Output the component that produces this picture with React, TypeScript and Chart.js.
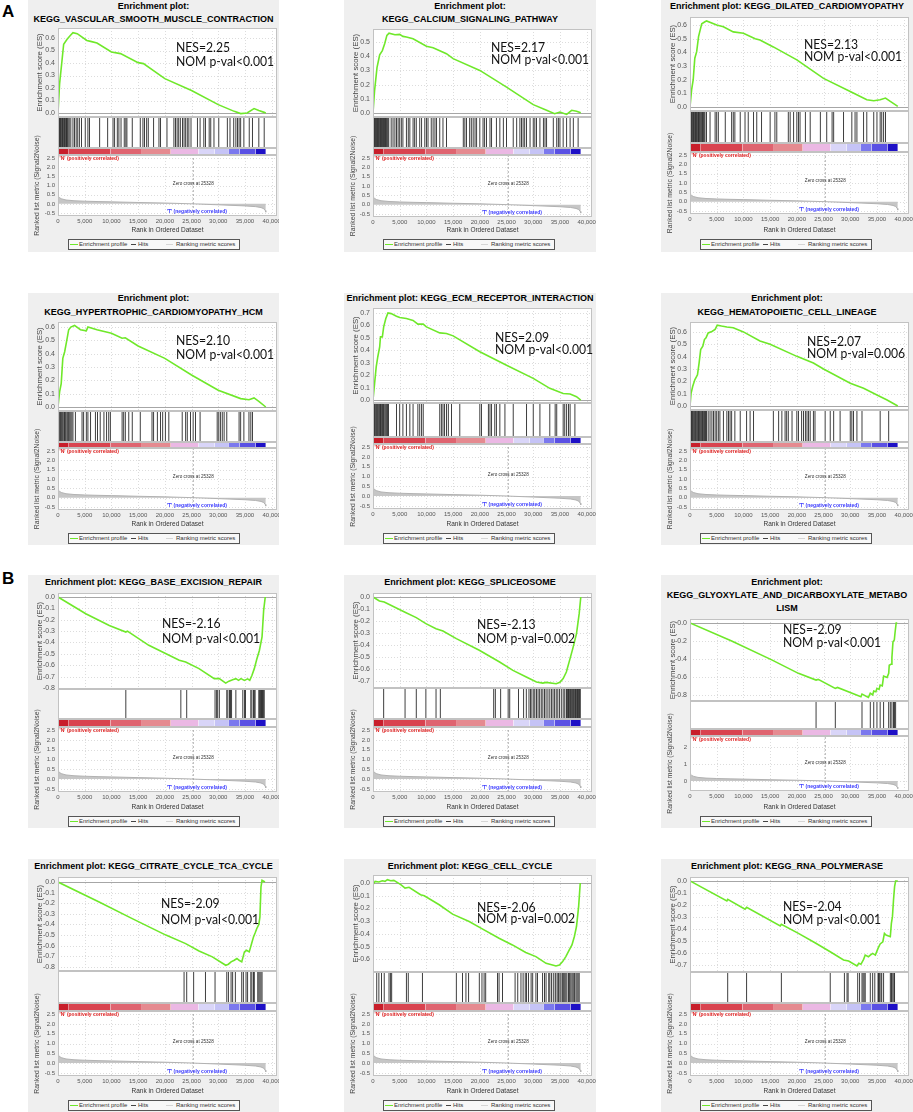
import React, { useEffect, useRef } from 'react';
import { Chart, registerables } from 'chart.js';

Chart.register(...registerables);

const FONT = "'Liberation Sans', Arial, Helvetica, sans-serif";
const NES_FONT = "Lato, 'Open Sans', sans-serif";
Chart.defaults.font.family = FONT;

// ---------------- shared ranked list ----------------
const RANK_METRIC_X = [0, 100, 300, 700, 1500, 3000, 5000, 7500, 10000, 15000, 20000, 25328, 30000, 35000, 37000, 38000, 38500, 38800, 38900];
const RANK_METRIC_Y = [0.48, 0.4, 0.33, 0.27, 0.21, 0.17, 0.145, 0.125, 0.11, 0.075, 0.045, 0, -0.05, -0.11, -0.15, -0.2, -0.26, -0.36, -0.45];
const ZERO_CROSS = 25328;
const COLORBAR_EDGES = [0, 2000, 9800, 15700, 21100, 26300, 29300, 32000, 34000, 37000, 38900];
const COLORBAR_COLORS = ['#c81e2a', '#d9434f', '#df6470', '#e58a90', '#ebb8e4', '#d9d5f8', '#c5c3f6', '#7b78ee', '#5a50e4', '#1e10c6'];
const X_TICK_VALUES = [0, 5000, 10000, 15000, 20000, 25000, 30000, 35000, 40000];
const X_MAX = 41000;

// ---------------- panel texts ----------------
const PANEL_TITLES = [
  ['Enrichment plot:', 'KEGG_VASCULAR_SMOOTH_MUSCLE_CONTRACTION'],
  ['Enrichment plot:', 'KEGG_CALCIUM_SIGNALING_PATHWAY'],
  ['Enrichment plot: KEGG_DILATED_CARDIOMYOPATHY'],
  ['Enrichment plot:', 'KEGG_HYPERTROPHIC_CARDIOMYOPATHY_HCM'],
  ['Enrichment plot: KEGG_ECM_RECEPTOR_INTERACTION'],
  ['Enrichment plot:', 'KEGG_HEMATOPOIETIC_CELL_LINEAGE'],
  ['Enrichment plot: KEGG_BASE_EXCISION_REPAIR'],
  ['Enrichment plot: KEGG_SPLICEOSOME'],
  ['Enrichment plot:', 'KEGG_GLYOXYLATE_AND_DICARBOXYLATE_METABO', 'LISM'],
  ['Enrichment plot: KEGG_CITRATE_CYCLE_TCA_CYCLE'],
  ['Enrichment plot: KEGG_CELL_CYCLE'],
  ['Enrichment plot: KEGG_RNA_POLYMERASE'],
];
const NES_TEXT = ['NES=2.25', 'NES=2.17', 'NES=2.13', 'NES=2.10', 'NES=2.09', 'NES=2.07', 'NES=-2.16', 'NES=-2.13', 'NES=-2.09', 'NES=-2.09', 'NES=-2.06', 'NES=-2.04'];
const PVAL_TEXT = ['NOM p-val<0.001', 'NOM p-val<0.001', 'NOM p-val<0.001', 'NOM p-val<0.001', 'NOM p-val<0.001', 'NOM p-val=0.006', 'NOM p-val<0.001', 'NOM p-val=0.002', 'NOM p-val<0.001', 'NOM p-val<0.001', 'NOM p-val=0.002', 'NOM p-val<0.001'];

// ---------------- enrichment profiles (rank, ES) and hit positions (thousands of ranks) ----------------
const ES_VASCULAR_X = [0, 300, 750, 1060, 1700, 2300, 2800, 3600, 5400, 6100, 7300, 10000, 11700, 15000, 16000, 20000, 25000, 30000, 33000, 34200, 35400, 36700, 37600, 38600, 38900];
const ES_VASCULAR_Y = [0, 0.235, 0.42, 0.55, 0.59, 0.62, 0.643, 0.635, 0.58, 0.573, 0.56, 0.488, 0.475, 0.403, 0.395, 0.275, 0.18, 0.067, 0.013, -0.005, 0, 0.035, 0.02, 0.005, 0];
const HITS_VASCULAR_K = [0.05, 0.2, 0.3, 0.45, 0.55, 0.7, 0.85, 0.95, 1.1, 1.2, 1.35, 1.5, 1.6, 1.75, 1.9, 2.1, 2.4, 2.8, 3.1, 3.4, 3.7, 4.0, 4.4, 5.1, 5.6, 5.9, 7.8, 9.3, 10.3, 10.6, 11.1, 11.4, 11.8, 12.4, 12.7, 12.9, 13.9, 15.4, 15.9, 16.2, 16.6, 16.9, 17.9, 18.9, 19.2, 20.4, 21.7, 22.0, 22.3, 22.6, 22.9, 23.3, 23.6, 23.9, 24.2, 24.5, 24.9, 26.1, 26.6, 27.3, 27.6, 28.3, 28.6, 29.2, 30.1, 31.7, 32.2, 32.9, 33.3, 33.6, 33.9, 34.2, 34.8, 35.8, 36.4, 37.6, 38.6];

const ES_CALCIUM_X = [0, 300, 750, 1250, 1750, 2200, 2600, 3000, 4100, 5000, 5600, 6250, 7500, 10000, 11250, 13750, 15000, 20000, 25000, 30000, 32500, 34000, 35000, 36250, 37200, 38100, 38900];
const ES_CALCIUM_Y = [0, 0.16, 0.32, 0.41, 0.44, 0.49, 0.547, 0.563, 0.552, 0.554, 0.54, 0.535, 0.523, 0.47, 0.46, 0.418, 0.383, 0.3, 0.183, 0.059, 0.019, -0.005, 0.007, -0.01, 0.019, 0.012, 0.002];
const HITS_CALCIUM_K = [0.05, 0.2, 0.3, 0.45, 0.6, 0.7, 0.85, 1.0, 1.1, 1.25, 1.4, 1.55, 1.65, 1.8, 1.95, 2.1, 2.2, 2.35, 2.5, 2.65, 2.8, 2.95, 3.4, 3.75, 4.1, 4.4, 4.7, 5.0, 5.3, 5.6, 6.25, 6.6, 6.9, 7.5, 7.8, 8.1, 8.75, 9.1, 9.7, 10.0, 10.3, 10.9, 11.25, 11.6, 11.9, 12.5, 13.1, 13.75, 16.9, 17.2, 17.5, 18.1, 18.4, 18.75, 19.1, 19.4, 20.0, 20.6, 20.9, 21.25, 21.9, 22.2, 23.1, 23.75, 24.4, 25.0, 26.25, 26.9, 27.5, 27.8, 28.1, 28.4, 28.75, 29.4, 30.0, 30.3, 30.6, 31.25, 31.9, 32.2, 32.5, 33.75, 34.4, 34.7, 35.0, 35.6, 36.25, 36.9, 37.5, 38.4];

const ES_DILATED_X = [0, 300, 600, 900, 1250, 1600, 1900, 2200, 2800, 3100, 5000, 6250, 8100, 10000, 12200, 13100, 15600, 20000, 25000, 30000, 33100, 34400, 35600, 36600, 37500, 38900];
const ES_DILATED_Y = [0, 0.126, 0.2, 0.357, 0.405, 0.515, 0.563, 0.61, 0.624, 0.63, 0.6, 0.587, 0.55, 0.54, 0.5, 0.49, 0.44, 0.345, 0.21, 0.114, 0.053, 0.046, 0.053, 0.066, 0.041, 0.005];
const HITS_DILATED_K = [0.1, 0.25, 0.35, 0.5, 0.65, 0.8, 0.95, 1.05, 1.2, 1.35, 1.5, 1.6, 1.75, 1.9, 2.05, 2.2, 2.35, 2.5, 2.65, 2.8, 3.1, 3.75, 4.7, 5.0, 5.3, 6.6, 7.8, 8.1, 8.4, 9.4, 10.3, 10.9, 11.9, 12.5, 13.4, 15.0, 15.9, 16.25, 18.4, 18.75, 19.4, 20.0, 20.3, 20.6, 21.6, 22.5, 24.4, 25.6, 26.6, 26.9, 28.75, 30.3, 30.9, 31.25, 32.5, 33.1, 34.4, 35.0, 35.6, 35.9, 36.25, 36.6];

const ES_HCM_X = [0, 300, 600, 900, 1250, 1600, 2000, 2400, 3100, 4200, 5300, 5600, 7300, 10000, 12000, 12600, 15000, 20000, 25000, 30000, 34200, 35750, 36700, 37600, 38900];
const ES_HCM_Y = [0, 0.113, 0.176, 0.365, 0.415, 0.49, 0.58, 0.6, 0.612, 0.58, 0.572, 0.6, 0.58, 0.554, 0.516, 0.52, 0.458, 0.365, 0.24, 0.126, 0.063, 0.055, 0.068, 0.043, 0];
const HITS_HCM_K = [0.05, 0.2, 0.35, 0.5, 0.6, 0.75, 0.9, 1.1, 1.2, 1.35, 1.5, 1.7, 1.85, 2.0, 2.2, 2.4, 2.6, 2.8, 3.25, 4.5, 4.8, 5.3, 5.6, 6.1, 7.0, 7.4, 7.9, 8.6, 9.1, 9.5, 9.8, 12.0, 12.3, 12.6, 13.25, 13.9, 15.4, 17.6, 17.9, 18.6, 19.2, 19.6, 20.1, 20.75, 23.25, 23.9, 24.2, 24.8, 25.3, 25.75, 26.6, 29.8, 30.1, 30.4, 30.75, 31.1, 31.6, 33.9, 34.2, 34.8, 35.75, 36.1, 36.4];

const ES_ECM_X = [0, 300, 600, 900, 1250, 1400, 1750, 2000, 2400, 2800, 3400, 4400, 5000, 6250, 7500, 8400, 9400, 10000, 12500, 13750, 15000, 20000, 25000, 30000, 33100, 35600, 36900, 38100, 38900];
const ES_ECM_Y = [0, 0.134, 0.267, 0.348, 0.428, 0.508, 0.508, 0.588, 0.655, 0.7, 0.695, 0.674, 0.663, 0.655, 0.64, 0.61, 0.61, 0.588, 0.54, 0.535, 0.516, 0.388, 0.28, 0.174, 0.094, 0.053, 0.048, 0.027, 0];
const HITS_ECM_K = [0.05, 0.15, 0.3, 0.4, 0.55, 0.7, 0.8, 0.95, 1.1, 1.25, 1.4, 1.5, 1.65, 1.8, 1.95, 2.1, 2.3, 2.5, 2.7, 2.9, 4.4, 5.0, 5.6, 6.25, 6.9, 7.5, 8.4, 8.75, 9.1, 9.4, 12.5, 12.8, 13.1, 13.4, 13.75, 14.1, 14.7, 16.25, 20.0, 20.3, 21.6, 21.9, 22.2, 22.8, 23.1, 23.75, 24.7, 26.25, 28.75, 30.0, 31.25, 33.1, 34.1, 34.4, 35.6, 35.9, 36.25, 36.6, 36.9, 37.8];

const ES_HEMATO_X = [0, 200, 500, 900, 1400, 1700, 2000, 2400, 2700, 3000, 3400, 4100, 4700, 5100, 5900, 6900, 8100, 10000, 13100, 15000, 20000, 23100, 25000, 30000, 32500, 35000, 36900, 38900];
const ES_HEMATO_Y = [0, 0.103, 0.158, 0.212, 0.253, 0.348, 0.457, 0.484, 0.538, 0.552, 0.592, 0.603, 0.62, 0.654, 0.647, 0.64, 0.633, 0.6, 0.527, 0.5, 0.402, 0.348, 0.3, 0.185, 0.144, 0.09, 0.049, 0];
const HITS_HEMATO_K = [0.05, 0.2, 0.3, 0.45, 0.6, 0.75, 0.9, 1.0, 1.15, 1.3, 1.45, 1.6, 1.75, 1.9, 2.05, 2.2, 2.35, 2.5, 2.7, 2.9, 3.1, 3.4, 3.75, 4.1, 4.4, 4.7, 5.0, 5.3, 5.6, 6.25, 6.9, 7.2, 7.5, 7.8, 8.4, 9.4, 10.6, 11.25, 11.9, 15.6, 16.6, 17.2, 17.8, 18.1, 18.4, 19.1, 20.0, 20.3, 20.9, 21.25, 21.6, 21.9, 22.2, 22.5, 23.1, 23.4, 25.3, 26.25, 26.9, 28.1, 30.0, 30.3, 30.6, 31.25, 32.2, 35.6, 37.2];

const ES_BER_X = [0, 5200, 9600, 12700, 13000, 17000, 22700, 23900, 26400, 29250, 30200, 31400, 32000, 32700, 33300, 33800, 34250, 34900, 35500, 35900, 36300, 36750, 37200, 37700, 38200, 38500, 38800];
const ES_BER_Y = [0, -0.147, -0.25, -0.308, -0.3, -0.425, -0.557, -0.572, -0.63, -0.718, -0.718, -0.757, -0.74, -0.727, -0.718, -0.733, -0.718, -0.733, -0.72, -0.733, -0.69, -0.63, -0.55, -0.47, -0.35, -0.117, 0];
const HITS_BER_K = [12.7, 23.0, 24.1, 29.4, 29.7, 29.9, 30.2, 31.6, 31.8, 32.1, 32.3, 32.5, 33.3, 34.6, 34.9, 35.1, 36.1, 36.3, 36.6, 36.75, 36.9, 37.6, 37.7, 37.9, 38.1, 38.2, 38.3, 38.5, 38.6];

const ES_SPLICE_X = [0, 1200, 2100, 5900, 8100, 9900, 11800, 13100, 15600, 19900, 23700, 26200, 28700, 30600, 31800, 32400, 34300, 35000, 35600, 36200, 36800, 37400, 38100, 38600, 38900];
const ES_SPLICE_Y = [0, -0.033, -0.042, -0.125, -0.172, -0.222, -0.264, -0.283, -0.347, -0.444, -0.542, -0.611, -0.667, -0.708, -0.717, -0.711, -0.722, -0.711, -0.68, -0.625, -0.528, -0.43, -0.305, -0.139, 0];
const HITS_SPLICE_K = [2.0, 6.0, 8.1, 9.9, 11.8, 12.6, 22.6, 22.9, 23.9, 25.3, 25.6, 27.25, 28.2, 28.7, 29.2, 29.5, 29.75, 30.1, 30.3, 30.6, 30.9, 31.2, 31.5, 31.8, 32.1, 32.4, 32.75, 33.1, 33.4, 33.7, 34.0, 34.3, 34.6, 34.9, 35.25, 35.6, 35.9, 36.2, 36.3, 36.45, 36.6, 36.7, 36.85, 37.0, 37.1, 37.25, 37.4, 37.5, 37.65, 37.8, 37.9, 38.05, 38.2, 38.3, 38.45, 38.6, 38.7, 38.8];

const ES_GLYOX_X = [0, 7800, 15300, 20300, 23600, 24000, 27200, 27600, 32000, 32200, 33400, 33750, 34200, 34400, 34800, 35000, 35400, 35600, 36000, 36250, 36900, 37200, 37300, 37700, 37800, 38000, 38250, 38400, 38600, 38800];
const ES_GLYOX_Y = [0, -0.2, -0.41, -0.56, -0.635, -0.627, -0.727, -0.716, -0.82, -0.79, -0.827, -0.78, -0.8, -0.756, -0.764, -0.727, -0.738, -0.69, -0.7, -0.59, -0.605, -0.56, -0.47, -0.457, -0.384, -0.21, -0.19, -0.1, 0, 0];
const HITS_GLYOX_K = [23.6, 27.2, 32.2, 33.75, 34.4, 35.0, 35.6, 36.25, 37.2, 37.5, 37.8, 38.1, 38.3, 38.5];

const ES_CITRATE_X = [0, 7700, 13900, 20200, 23900, 26400, 28900, 31400, 31900, 32400, 33000, 33500, 33900, 34400, 34900, 35300, 35800, 36250, 36600, 36900, 37200, 37600, 37800, 38000, 38200, 38750];
const ES_CITRATE_Y = [0, -0.188, -0.345, -0.5, -0.58, -0.65, -0.705, -0.784, -0.774, -0.752, -0.737, -0.72, -0.737, -0.752, -0.658, -0.643, -0.658, -0.58, -0.517, -0.48, -0.44, -0.4, -0.33, -0.047, 0.016, 0];
const HITS_CITRATE_K = [23.6, 24.1, 25.4, 27.6, 29.4, 31.6, 31.9, 32.4, 32.7, 33.2, 34.4, 34.7, 35.2, 35.5, 36.1, 36.3, 36.6, 36.75, 37.4, 37.6, 37.8, 38.0, 38.2];

const ES_CELLCYCLE_X = [0, 400, 1100, 1750, 2250, 2700, 3300, 3900, 5200, 6000, 6750, 8900, 9600, 12400, 14900, 18000, 20200, 23600, 26100, 28600, 30500, 32400, 33600, 34250, 34900, 35500, 36100, 36750, 37250, 37700, 38100, 38500, 38800];
const ES_CELLCYCLE_Y = [-0.013, 0.013, 0.008, 0.018, 0.013, 0.026, 0.018, 0.021, -0.013, -0.04, -0.034, -0.092, -0.1, -0.171, -0.245, -0.303, -0.355, -0.434, -0.487, -0.547, -0.579, -0.632, -0.645, -0.653, -0.645, -0.618, -0.579, -0.526, -0.487, -0.421, -0.342, -0.184, 0];
const HITS_CELLCYCLE_K = [0.7, 1.1, 1.6, 2.1, 3.0, 3.3, 3.5, 6.25, 6.6, 9.25, 15.6, 16.75, 17.4, 17.9, 19.9, 20.4, 20.8, 21.1, 23.3, 23.6, 24.25, 26.6, 27.1, 27.7, 28.1, 28.5, 28.75, 29.1, 29.6, 29.9, 30.5, 30.8, 31.75, 32.1, 32.4, 32.9, 33.1, 33.4, 33.75, 34.1, 34.25, 34.6, 34.75, 35.0, 35.2, 35.5, 35.7, 35.9, 36.1, 36.3, 36.6, 36.75, 36.9, 37.1, 37.4, 37.6, 37.75, 38.0, 38.2, 38.4, 38.6];

const ES_RNAPOL_X = [0, 6900, 7060, 10300, 10600, 16900, 17100, 20300, 23400, 26250, 28750, 29700, 31250, 31600, 32000, 32500, 32800, 33400, 33750, 34200, 34700, 35200, 35600, 36100, 36400, 36700, 37500, 37700, 37900, 38100, 38300, 38500, 38900];
const ES_RNAPOL_Y = [0, -0.167, -0.153, -0.236, -0.22, -0.375, -0.361, -0.436, -0.514, -0.589, -0.658, -0.667, -0.708, -0.686, -0.694, -0.653, -0.617, -0.631, -0.617, -0.603, -0.617, -0.561, -0.525, -0.506, -0.436, -0.45, -0.464, -0.353, -0.297, -0.158, -0.047, 0, 0];
const HITS_RNAPOL_K = [7.06, 10.6, 17.1, 26.25, 28.9, 29.4, 29.6, 31.4, 31.75, 32.2, 32.4, 32.6, 32.8, 33.75, 34.2, 34.6, 35.2, 35.3, 35.5, 35.75, 35.9, 36.25, 37.5, 37.7, 37.8, 38.0, 38.2, 38.3];

const PANEL_SERIES = [
  { esX: ES_VASCULAR_X, esY: ES_VASCULAR_Y, hitsK: HITS_VASCULAR_K },
  { esX: ES_CALCIUM_X, esY: ES_CALCIUM_Y, hitsK: HITS_CALCIUM_K },
  { esX: ES_DILATED_X, esY: ES_DILATED_Y, hitsK: HITS_DILATED_K },
  { esX: ES_HCM_X, esY: ES_HCM_Y, hitsK: HITS_HCM_K },
  { esX: ES_ECM_X, esY: ES_ECM_Y, hitsK: HITS_ECM_K },
  { esX: ES_HEMATO_X, esY: ES_HEMATO_Y, hitsK: HITS_HEMATO_K },
  { esX: ES_BER_X, esY: ES_BER_Y, hitsK: HITS_BER_K },
  { esX: ES_SPLICE_X, esY: ES_SPLICE_Y, hitsK: HITS_SPLICE_K },
  { esX: ES_GLYOX_X, esY: ES_GLYOX_Y, hitsK: HITS_GLYOX_K },
  { esX: ES_CITRATE_X, esY: ES_CITRATE_Y, hitsK: HITS_CITRATE_K },
  { esX: ES_CELLCYCLE_X, esY: ES_CELLCYCLE_Y, hitsK: HITS_CELLCYCLE_K },
  { esX: ES_RNAPOL_X, esY: ES_RNAPOL_Y, hitsK: HITS_RNAPOL_K },
];

// ---------------- layout (positions / axis ranges) ----------------
const PAGE_W = 913;
const PAGE_H = 1112;
const PLOT_W = 219;
const PAD_TOP = 5;
const BG = '#efefef';
const GREEN = '#6fe82a';
const COLS = [
  { bgL: 28, bgR: 279, plotL: 58, legL: 68 },
  { bgL: 344, bgR: 596, plotL: 373, legL: 383 },
  { bgL: 661, bgR: 913, plotL: 690, legL: 700 },
];
const ROWS = [
  { bgT: 0, bgB: 252, legT: 239 },
  { bgT: 293, bgB: 545, legT: 533 },
  { bgT: 575, bgB: 828, legT: 816 },
  { bgT: 859, bgB: 1112, legT: 1100 },
];
const R_DEF = { rankMin: -0.66, rankMax: 2.66, rankStep: 0.5 };
const GEOM: any[] = [
  { titleY: [7, 20], esT: 28, esB: 117, hitsB: 148, cbB: 155, rankB: 216, esMin: -0.032, esMax: 0.68, esStep: 0.1, ...R_DEF, nesX: 176, nesY: [46, 60] },
  { titleY: [7, 20], esT: 29, esB: 117, hitsB: 148, cbB: 155, rankB: 217, esMin: -0.028, esMax: 0.592, esStep: 0.1, ...R_DEF, nesX: 491, nesY: [46, 58] },
  { titleY: [7], esT: 17, esB: 111, hitsB: 143, cbB: 152, rankB: 214, esMin: -0.029, esMax: 0.659, esStep: 0.1, ...R_DEF, nesX: 804, nesY: [43, 55] },
  { titleY: [299, 313], esT: 322, esB: 411, hitsB: 442, cbB: 448, rankB: 510, esMin: -0.03, esMax: 0.638, esStep: 0.1, ...R_DEF, nesX: 176, nesY: [339, 353] },
  { titleY: [299], esT: 308, esB: 403, hitsB: 437, cbB: 444, rankB: 509, esMin: -0.024, esMax: 0.74, esStep: 0.1, ...R_DEF, nesX: 495, nesY: [336, 348] },
  { titleY: [299, 313], esT: 322, esB: 410, hitsB: 442, cbB: 448, rankB: 510, esMin: -0.032, esMax: 0.68, esStep: 0.1, ...R_DEF, nesX: 807, nesY: [340, 352] },
  { titleY: [583], esT: 593, esB: 689, hitsB: 719, cbB: 727, rankB: 792, esMin: -0.809, esMax: 0.035, esStep: 0.1, ...R_DEF, nesX: 162, nesY: [622, 637] },
  { titleY: [583], esT: 593, esB: 688, hitsB: 719, cbB: 727, rankB: 792, esMin: -0.758, esMax: 0.033, esStep: 0.1, ...R_DEF, nesX: 477, nesY: [623, 637] },
  { titleY: [583, 596, 609], esT: 619, esB: 701, hitsB: 729, cbB: 736, rankB: 791, esMin: -0.867, esMax: 0.044, esStep: 0.2, rankMin: -0.59, rankMax: 2.65, rankStep: 1, nesX: 783, nesY: [628, 641] },
  { titleY: [867], esT: 877, esB: 971, hitsB: 1003, cbB: 1011, rankB: 1076, esMin: -0.838, esMax: 0.047, esStep: 0.1, ...R_DEF, nesX: 161, nesY: [902, 918] },
  { titleY: [867], esT: 875, esB: 972, hitsB: 1003, cbB: 1011, rankB: 1076, esMin: -0.7, esMax: 0.063, esStep: 0.1, ...R_DEF, nesX: 477, nesY: [906, 917] },
  { titleY: [867], esT: 877, esB: 972, hitsB: 1003, cbB: 1011, rankB: 1076, esMin: -0.758, esMax: 0.033, esStep: 0.1, ...R_DEF, nesX: 783, nesY: [905, 918] },
];

const fmtStep = (step: number) => (v: any) => {
  const d = step >= 1 ? 0 : 1;
  const f = Math.pow(10, d);
  let n = Math.round(Number(v) * f) / f;
  if (n === 0) n = 0;
  return n.toFixed(d);
};

const decorPlugin = {
  id: 'gseaDecor',
  beforeDatasetsDraw(chart: any) {
    const { ctx, chartArea: a, scales } = chart;
    const x = scales.x, yE = scales.yES, yR = scales.yRank;
    ctx.save();
    ctx.fillStyle = '#ffffff';
    ctx.fillRect(a.left, a.top, a.right - a.left, a.bottom - a.top);
    ctx.lineWidth = 1;
    ctx.strokeStyle = '#dcdcdc';
    ctx.setLineDash([1, 2]);
    ctx.beginPath();
    for (const t of x.ticks) {
      if (t.value === 0) continue;
      const px = Math.round(x.getPixelForValue(t.value)) + 0.5;
      for (const s of [yE, yR]) {
        ctx.moveTo(px, s.top);
        ctx.lineTo(px, s.bottom);
      }
    }
    for (const s of [yE, yR]) {
      for (const t of s.ticks) {
        if (s === yE && Math.abs(t.value) < 1e-9) continue;
        const py = Math.round(s.getPixelForValue(t.value)) + 0.5;
        ctx.moveTo(a.left, py);
        ctx.lineTo(a.right, py);
      }
    }
    ctx.stroke();
    ctx.setLineDash([]);
    ctx.strokeStyle = '#a6a6a6';
    const z = Math.round(yE.getPixelForValue(0)) + 0.5;
    ctx.beginPath();
    ctx.moveTo(a.left, z);
    ctx.lineTo(a.right, z);
    ctx.stroke();
    ctx.restore();
  },
  afterDatasetsDraw(chart: any) {
    const { ctx, chartArea: a, scales } = chart;
    const x = scales.x, yR = scales.yRank, yC = scales.yCB;
    ctx.save();
    ctx.strokeStyle = '#c2c2c2';
    ctx.lineWidth = 1;
    for (const id of ['yES', 'yHits', 'yCB', 'yRank']) {
      const s = scales[id];
      const t = Math.round(s.top) + 0.5;
      const b = Math.round(s.bottom) - 0.5;
      ctx.strokeRect(Math.round(a.left) + 0.5, t, Math.round(a.right - a.left) - 1, b - t);
    }
    ctx.textBaseline = 'middle';
    ctx.font = `bold 5px ${FONT}`;
    ctx.fillStyle = '#e02424';
    ctx.textAlign = 'left';
    ctx.fillText("'N' (positively correlated)", x.getPixelForValue(0) + 1.5, yC.bottom + 4);
    ctx.fillStyle = '#3a3aff';
    ctx.textAlign = 'center';
    ctx.fillText("'T' (negatively correlated)", x.getPixelForValue(26000), yR.bottom - 4.5);
    ctx.fillStyle = '#333';
    ctx.font = `4.6px ${FONT}`;
    ctx.fillText('Zero cross at ' + ZERO_CROSS, x.getPixelForValue(ZERO_CROSS), yR.getPixelForValue(1.1));
    ctx.restore();
  },
};

function makeChart(canvas: HTMLCanvasElement, p: number) {
  const g = GEOM[p];
  const s = PANEL_SERIES[p];
  const col = COLS[p % 3];
  const row = ROWS[Math.floor(p / 3)];
  const yW = col.plotL - col.bgL;
  const padRight = col.bgR - (col.plotL + PLOT_W);
  const xH = row.legT - g.rankB;
  const fitY = (sc: any) => {
    sc.width = yW;
    sc.paddingTop = 0;
    sc.paddingBottom = 0;
  };
  const noGrid = { display: false, drawTicks: false };
  const noBorder = { display: false };
  const hiddenAxis = (weight: number, stackWeight: number) => ({
    type: 'linear',
    position: 'left',
    stack: 'gsea',
    stackWeight,
    weight,
    min: 0,
    max: 1,
    ticks: { display: false },
    grid: noGrid,
    border: noBorder,
    afterFit: fitY,
  });

  const datasets: any[] = [
    {
      type: 'line',
      data: s.esX.map((xv, i) => ({ x: xv, y: s.esY[i] })),
      yAxisID: 'yES',
      borderColor: GREEN,
      borderWidth: 1.6,
      pointRadius: 0,
      fill: false,
      tension: 0,
      order: 0,
    },
    {
      type: 'line',
      data: [{ x: ZERO_CROSS, y: g.rankMin }, { x: ZERO_CROSS, y: g.rankMax }],
      yAxisID: 'yRank',
      borderColor: '#9c9c9c',
      borderWidth: 0.8,
      borderDash: [2, 2],
      pointRadius: 0,
      fill: false,
      order: 0,
    },
    {
      type: 'bar',
      data: s.hitsK.map((k) => ({ x: k * 1000, y: 1 })),
      yAxisID: 'yHits',
      backgroundColor: '#2a2a2a',
      borderWidth: 0,
      barThickness: 0.9,
      inflateAmount: 0,
      order: 1,
    },
    ...COLORBAR_COLORS.map((c, i) => ({
      type: 'line',
      data: [{ x: COLORBAR_EDGES[i], y: 1 }, { x: COLORBAR_EDGES[i + 1], y: 1 }],
      yAxisID: 'yCB',
      borderColor: 'rgba(0,0,0,0)',
      borderWidth: 0,
      backgroundColor: c,
      fill: 'origin',
      pointRadius: 0,
      order: 2,
    })),
    {
      type: 'line',
      data: RANK_METRIC_X.map((xv, i) => ({ x: xv, y: RANK_METRIC_Y[i] })),
      yAxisID: 'yRank',
      borderColor: '#b2b2b2',
      borderWidth: 1,
      backgroundColor: '#c6c6c6',
      fill: 'origin',
      pointRadius: 0,
      order: 3,
    },
  ];

  return new Chart(canvas, {
    type: 'line',
    data: { datasets },
    plugins: [decorPlugin],
    options: {
      animation: false,
      responsive: false,
      events: [],
      layout: { padding: { left: 0, right: padRight, top: PAD_TOP, bottom: 0 } },
      plugins: { legend: { display: false }, tooltip: { enabled: false } },
      scales: {
        x: {
          type: 'linear',
          min: 0,
          max: X_MAX,
          offset: false,
          grid: noGrid,
          border: noBorder,
          afterBuildTicks: (sc: any) => {
            sc.ticks = X_TICK_VALUES.map((v) => ({ value: v }));
          },
          ticks: {
            autoSkip: false,
            maxRotation: 0,
            minRotation: 0,
            padding: 2,
            color: '#555',
            font: { size: 6 },
            callback: (v: any) => Number(v).toLocaleString('en-US'),
          },
          title: { display: true, text: 'Rank in Ordered Dataset', color: '#333', font: { size: 6.5 }, padding: { top: 0, bottom: 5 } },
          afterFit: (sc: any) => {
            sc.height = xH;
            sc.paddingLeft = 0;
            sc.paddingRight = 0;
          },
        },
        yES: {
          type: 'linear',
          position: 'left',
          stack: 'gsea',
          stackWeight: g.esB - g.esT,
          weight: 4,
          min: g.esMin,
          max: g.esMax,
          grid: noGrid,
          border: noBorder,
          ticks: { stepSize: g.esStep, includeBounds: false, autoSkip: false, padding: 3, color: '#555', font: { size: 7 }, callback: fmtStep(g.esStep) },
          title: { display: true, text: 'Enrichment score (ES)', color: '#444', font: { size: 7.8 }, padding: { top: 6.8, bottom: 0 } },
          afterFit: fitY,
        },
        yHits: hiddenAxis(3, g.hitsB - g.esB),
        yCB: hiddenAxis(2, g.cbB - g.hitsB),
        yRank: {
          type: 'linear',
          position: 'left',
          stack: 'gsea',
          stackWeight: g.rankB - g.cbB,
          weight: 1,
          min: g.rankMin,
          max: g.rankMax,
          grid: noGrid,
          border: noBorder,
          ticks: { stepSize: g.rankStep, includeBounds: false, autoSkip: false, padding: 3, color: '#555', font: { size: 6 }, callback: fmtStep(g.rankStep) },
          title: { display: true, text: 'Ranked list metric (Signal2Noise)', color: '#444', font: { size: 6.8 }, padding: { top: 5.4, bottom: 0 } },
          afterFit: fitY,
        },
      },
    } as any,
  } as any);
}

function Panel({ p }: { p: number }) {
  const ref = useRef<HTMLCanvasElement | null>(null);
  const g = GEOM[p];
  const col = COLS[p % 3];
  const row = ROWS[Math.floor(p / 3)];
  const cTop = g.esT - PAD_TOP;
  const cw = col.bgR - col.bgL;
  const ch = row.legT - cTop;

  useEffect(() => {
    if (!ref.current) return;
    const chart = makeChart(ref.current, p);
    return () => chart.destroy();
  }, [p]);

  const abs: any = { position: 'absolute' };
  const legText: any = { ...abs, top: 0, lineHeight: '9px', whiteSpace: 'nowrap' };

  return (
    <>
      <div style={{ ...abs, left: col.bgL, top: row.bgT, width: cw, height: row.bgB - row.bgT, background: BG }} />
      {PANEL_TITLES[p].map((t, i) => (
        <div
          key={'t' + i}
          style={{ ...abs, left: col.bgL - 20, width: cw + 40, top: g.titleY[i] - 6.5, height: 13, lineHeight: '13px', textAlign: 'center', font: `bold 9px ${FONT}`, color: '#000', whiteSpace: 'nowrap' }}
        >
          {t}
        </div>
      ))}
      <canvas ref={ref} width={cw} height={ch} style={{ ...abs, left: col.bgL, top: cTop, width: cw, height: ch }} />
      {[NES_TEXT[p], PVAL_TEXT[p]].map((t, i) => (
        <div
          key={'n' + i}
          style={{ ...abs, left: g.nesX, top: g.nesY[i] - 8, height: 16, lineHeight: '16px', font: `14px ${NES_FONT}`, color: '#111', whiteSpace: 'nowrap', transform: 'scaleX(0.87)', transformOrigin: '0 50%' }}
        >
          {t}
        </div>
      ))}
      <div style={{ ...abs, left: col.legL, top: row.legT, width: 172, height: 11, boxSizing: 'border-box', border: '1px solid #555', background: '#f8f8f8', font: `6px ${FONT}`, color: '#333' }}>
        <div style={{ ...abs, left: 1, top: 3.5, width: 8, height: 1.6, background: GREEN }} />
        <div style={{ ...legText, left: 10 }}>Enrichment profile</div>
        <div style={{ ...abs, left: 62, top: 4, width: 5, height: 1, background: '#444' }} />
        <div style={{ ...legText, left: 69 }}>Hits</div>
        <div style={{ ...abs, left: 97, top: 4, width: 7, height: 1, background: '#d6d6d6' }} />
        <div style={{ ...legText, left: 107 }}>Ranking metric scores</div>
      </div>
    </>
  );
}

export default function App() {
  return (
    <div style={{ position: 'absolute', left: 0, top: 0, width: PAGE_W, height: PAGE_H, overflow: 'hidden', background: '#fff', fontFamily: FONT }}>
      {GEOM.map((_, p) => (
        <Panel key={p} p={p} />
      ))}
      <div style={{ position: 'absolute', left: 2, top: 2.8, font: `bold 17px ${FONT}`, lineHeight: '17px', color: '#000' }}>A</div>
      <div style={{ position: 'absolute', left: 2, top: 569.5, font: `bold 17px ${FONT}`, lineHeight: '17px', color: '#000' }}>B</div>
    </div>
  );
}
